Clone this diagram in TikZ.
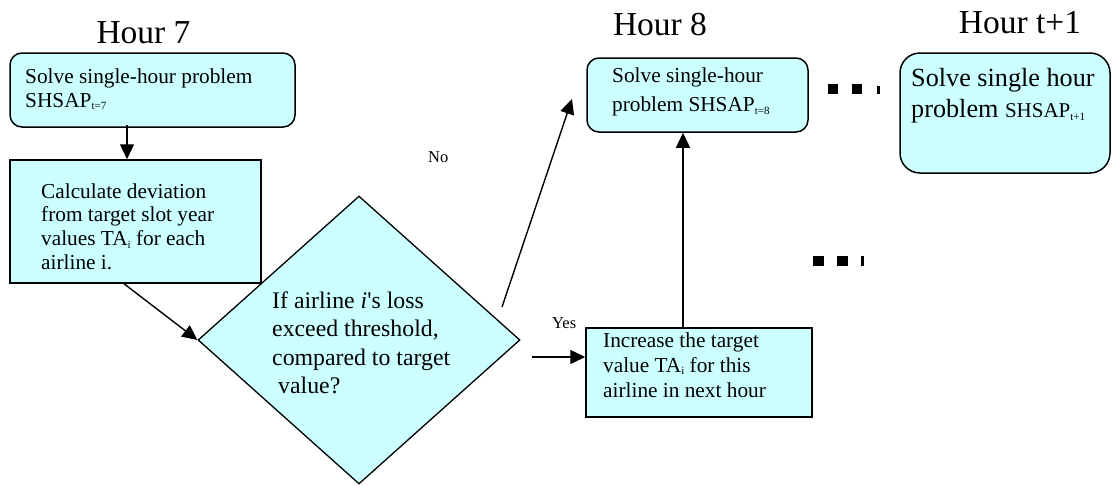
\documentclass[tikz,border=0pt]{standalone}
\usepackage{fontspec}
\setmainfont{Liberation Serif}
\usetikzlibrary{shapes.geometric,arrows.meta}
\definecolor{boxfill}{RGB}{204,255,255}
\newcommand\mysub[1]{\raisebox{-0.3ex}{\fontsize{11}{11}\selectfont #1}}
\newcommand\mylines[2]{\vtop{\baselineskip=#1\lineskiplimit=-20pt\relax\halign{##\hfil\cr #2\crcr}}}
\tikzset{
  rbox/.style={draw, line width=1.5pt, fill=boxfill, rounded corners=12pt, inner sep=0pt},
  sbox/.style={draw, line width=1.5pt, fill=boxfill, inner sep=0pt},
  dbox/.style={draw, line width=1.3pt, fill=boxfill, diamond, inner sep=0pt},
  txt/.style={anchor=base west, inner sep=0pt},
  title/.style={anchor=base, inner sep=0pt, font=\fontsize{33.5}{36}\selectfont},
  arr/.style={line width=1.4pt, -{Triangle[length=15pt,width=14pt]}},
  lab/.style={anchor=base west, inner sep=0pt, font=\fontsize{16.5}{18}\selectfont}
}
\begin{document}
\begin{tikzpicture}[x=1pt,y=-1pt]
\useasboundingbox (0,0) rectangle (1112,485);
% titles
\node[title] (h7) at (143.5,43) {Hour 7};
\node[title] (h8) at (660,35) {Hour 8};
\node[title] (ht) at (1020,33) {Hour t+1};
% shapes
\node[rbox, minimum width=285pt, minimum height=74pt] (b1) at (152.5,90) {};
\node[sbox, minimum width=251pt, minimum height=123pt] (b2) at (135.5,221.5) {};
\node[dbox, minimum width=322pt, minimum height=288pt] (d) at (359,340) {};
\node[rbox, minimum width=221pt, minimum height=74pt] (b3) at (697.5,95) {};
\node[sbox, minimum width=226pt, minimum height=89pt] (b4) at (699,372.5) {};
\node[rbox, rounded corners=20pt, minimum width=210pt, minimum height=120pt] (b5) at (1005,113) {};
% texts
\node[txt, font=\fontsize{21.3}{24}\selectfont] (t1) at (25,83)
  {\mylines{24pt}{Solve single-hour problem\cr SHSAP\mysub{t=7}}};
\node[txt, font=\fontsize{21.3}{24}\selectfont] (t2) at (41,198)
  {\mylines{23.7pt}{Calculate deviation\cr from target slot year\cr values TA\mysub{i} for each\cr airline i.}};
\node[txt, font=\fontsize{23.8}{28}\selectfont] (td) at (272,308)
  {\mylines{28.5pt}{If airline \textit{i}\textquotesingle s loss\cr exceed threshold,\cr compared to target\cr \hspace{6pt}value?}};
\node[txt, font=\fontsize{21.3}{24}\selectfont] (t3) at (612,82.5)
  {\mylines{29pt}{Solve single-hour\cr problem SHSAP\mysub{t=8}}};
\node[txt, font=\fontsize{21.3}{24}\selectfont] (t4) at (603,347)
  {\mylines{25pt}{Increase the target\cr value TA\mysub{i} for this\cr airline in next hour}};
\node[txt, font=\fontsize{26.2}{30}\selectfont] (t5) at (911,86)
  {\mylines{31pt}{Solve single hour\cr problem {\fontsize{21}{24}\selectfont SHSAP}\mysub{t+1}}};
\node[lab] (no) at (428,162) {No};
\node[lab] (yes) at (552,328) {Yes};
% connectors
\coordinate (noS) at (502,307);
\coordinate (noE) at (572,99);
\coordinate (yesS) at (532,357);
\draw[arr] ([xshift=-25.5pt,yshift=3pt]b1.south) -- ([xshift=-8.5pt]b2.north);
\draw[arr] ([xshift=-11.5pt]b2.south) -- (d.west);
\draw[arr] (noS) -- (noE);
\draw[arr] (yesS) -- (yesS -| b4.west);
\draw[arr] ([xshift=-16pt]b4.north) -- ([xshift=-14.5pt]b3.south);
% dots
\fill (828,84) rectangle (838,94);
\fill (852,84) rectangle (862,94);
\fill (877,86) rectangle (879.5,94);
\fill (813,256) rectangle (824,266);
\fill (837,256) rectangle (848,266);
\fill (861,256) rectangle (863.5,266);
\end{tikzpicture}
\end{document}
